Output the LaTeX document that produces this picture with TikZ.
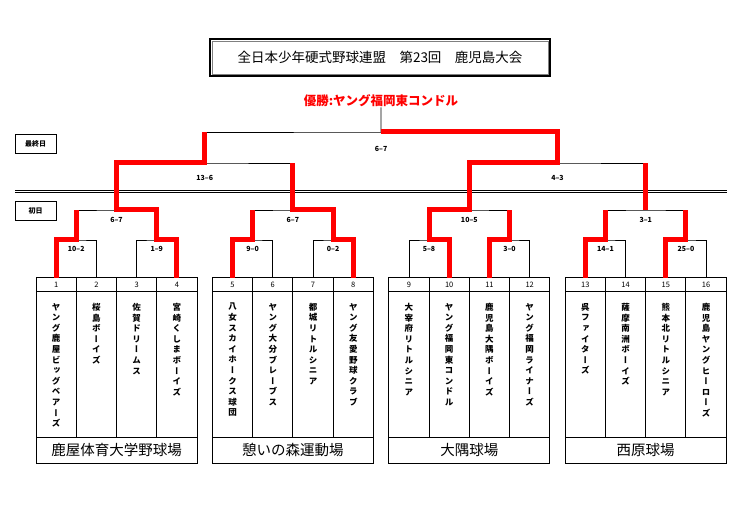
\documentclass[tikz,border=0pt]{standalone}
\usepackage{fontspec}
\setmainfont{Noto Sans CJK JP}
\newfontfamily\tatefont[RawFeature=+vert]{Noto Sans CJK JP}
\usetikzlibrary{calc}
\def\bw{161}
\def\cw{40.25}
\def\bstep{176.4}
\definecolor{winred}{rgb}{1,0,0}
\makeatletter
\newcommand\tatestack[1]{\@tfor\tch:=#1\do{\tch\par}}
\makeatother

\begin{document}
\begin{tikzpicture}[x=1pt,y=-1pt,
	bracket/.style={line width=0.8pt},
	boxline/.style={line width=1pt},
	win/.style={winred,line width=5pt},
	score/.style={font=\bfseries\fontsize{7}{8}\selectfont,inner sep=0pt},
	num/.style={font=\fontsize{7.5}{8}\selectfont,inner sep=0pt},
	teamname/.style={font=\tatefont\bfseries\fontsize{8.5}{10.6}\selectfont,
		text width=10pt,align=center,inner sep=0pt,anchor=north},
	venue/.style={font=\fontsize{14.5}{16}\selectfont,inner sep=0pt},
	daybox/.style={draw,line width=0.9pt,minimum width=41,minimum height=19,
		inner sep=0pt,font=\bfseries\fontsize{7}{8}\selectfont}]
\useasboundingbox (0,0) rectangle (755,518);

\node[draw,line width=1.8pt,minimum width=340,minimum height=36.5,
	font=\fontsize{13.5}{15}\selectfont] (title) at (380,57.5)
	{全日本少年硬式野球連盟　第23回　鹿児島大会};
\draw[gray,line width=0.6pt] ($(title.south west)+(2.8,-2.8)$)
	rectangle ($(title.north east)+(-2.8,2.8)$);
\node[winred,font=\bfseries\fontsize{12.5}{14}\selectfont,inner sep=0pt]
	(champ) at (381,101) {優勝:ヤング福岡東コンドル};

\node[daybox] (dfinal) at (35.5,143.5) {最終日};
\node[daybox] (dfirst) at (35.5,211) {初日};
\draw[bracket] (15,190.6) -- (727,190.6);
\draw[bracket] (15,192.8) -- (727,192.8);

\coordinate (lv1) at (0,240);
\coordinate (lv2) at (0,210);
\coordinate (lv3) at (0,163);
\coordinate (lv4) at (0,132);

\foreach \b in {0,...,3}{
	\pgfmathsetmacro\bx{36+\b*\bstep}
	\draw[boxline] (\bx,278) rectangle ({\bx+\bw},463);
	\draw[boxline] (\bx,292) -- ({\bx+\bw},292);
	\draw[boxline] (\bx,437) -- ({\bx+\bw},437);
	\foreach \c in {1,2,3}
		\draw[boxline] ({\bx+\c*\cw},278) -- ({\bx+\c*\cw},437);
	\foreach \c in {0,...,3}{
		\pgfmathtruncatemacro\n{4*\b+\c+1}
		\coordinate (t\n) at ({\bx+(\c+0.5)*\cw},278);
		\node[num] (nb\n) at ($(t\n)+(0,7)$) {\n};
	}
}
\foreach \b/\v in {0/鹿屋体育大学野球場,1/憩いの森運動場,2/大隅球場,3/西原球場}
	\node[venue] (v\b) at ({36+\b*\bstep+\bw/2},450) {\v};

\foreach \n/\nm in {1/ヤング鹿屋ビッグベアーズ,2/桜島ボーイズ,3/佐賀ドリームス,
	4/宮崎くしまボーイズ,5/八女スカイホークス球団,6/ヤング大分ブレーブス,
	7/都城リトルシニア,8/ヤング友愛野球クラブ,9/大宰府リトルシニア,
	10/ヤング福岡東コンドル,11/鹿児島大隅ボーイズ,12/ヤング福岡ライナーズ,
	13/呉ファイターズ,14/薩摩南洲ボーイズ,15/熊本北リトルシニア,
	16/鹿児島ヤングヒーローズ}
	\node[teamname] (tn\n) at ($(t\n)+(0,25)$) {\expandafter\tatestack\expandafter{\nm}};

\foreach \k in {1,...,8}{
	\pgfmathtruncatemacro\i{2*\k-1}
	\pgfmathtruncatemacro\j{2*\k}
	\coordinate (a\k) at ($(t\i |- lv1)!.5!(t\j |- lv1)$);
	\draw[bracket] (t\i) |- (a\k) -| (t\j);
}
\foreach \k in {1,...,4}{
	\pgfmathtruncatemacro\i{2*\k-1}
	\pgfmathtruncatemacro\j{2*\k}
	\coordinate (b\k) at ($(a\i |- lv2)!.5!(a\j |- lv2)$);
	\draw[bracket] (a\i) |- (b\k) -| (a\j);
}
\coordinate (c1) at ($(b1 |- lv3)!.5!(b2 |- lv3)$);
\coordinate (c2) at ($(b3 |- lv3)!.5!(b4 |- lv3)$);
\coordinate (f) at ($(c1 |- lv4)!.5!(c2 |- lv4)$);
\draw[bracket] (b1) |- (c1) -| (b2);
\draw[bracket] (b3) |- (c2) -| (b4);
\draw[bracket] (c1) |- (f) -| (c2);
\draw[bracket] (f) -- (champ.south);

\draw[win] (t1) |- (a1) -- (a1 |- b1);
\draw[win] (t4) |- (a2) -- (a2 |- b1) -- (b1) -- (b1 |- c1) -- (c1) -- (c1 |- f);
\draw[win] (t5) |- (a3) -- (a3 |- b2);
\draw[win] (t8) |- (a4) -- (a4 |- b2) -- (b2) -- (b2 |- c1);
\draw[win] (t10) |- (a5) -- (a5 |- b3) -- (b3) -- (b3 |- c2) -- (c2) -- (c2 |- f) -- (f);
\draw[win] (t11) |- (a6) -- (a6 |- b3);
\draw[win] (t13) |- (a7) -- (a7 |- b4);
\draw[win] (t15) |- (a8) -- (a8 |- b4);
\draw[win] (b4) -- (b4 |- c2);

\foreach \m/\dy/\s in {a1/9/10–2,a2/9/1–9,a3/9/9–0,a4/9/0–2,a5/9/5–8,a6/9/3–0,
	a7/9/14–1,a8/9/25–0,b1/10/6–7,b2/10/6–7,b3/10/10–5,b4/10/3–1,
	c1/15/13–6,c2/15/4–3,f/17/6–7}
	\node[score] (s\m) at ($(\m)+(0,\dy)$) {\s};
\end{tikzpicture}
\end{document}
